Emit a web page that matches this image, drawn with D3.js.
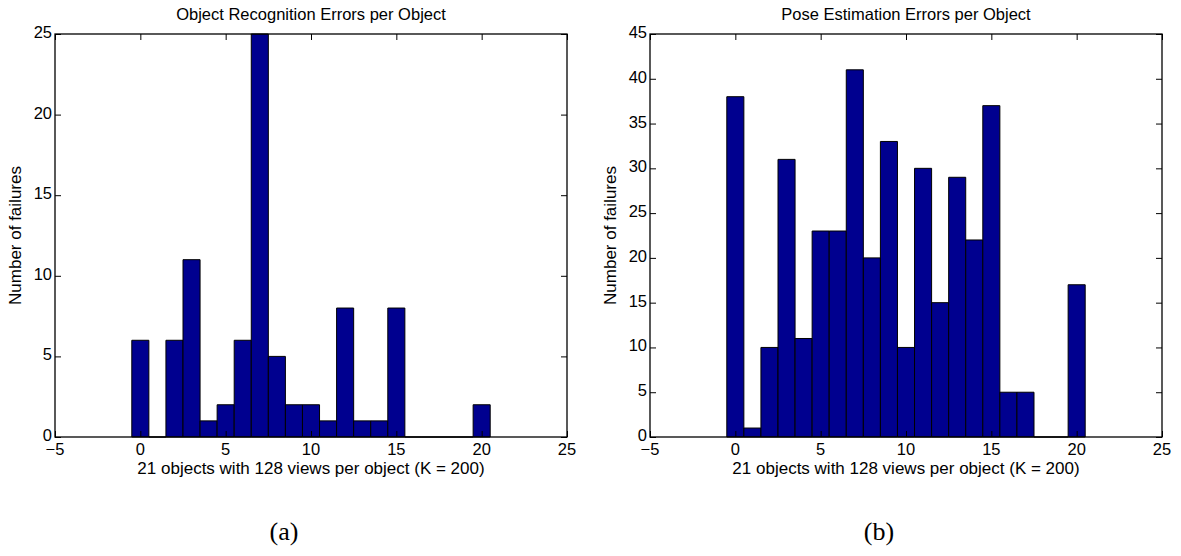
<!doctype html>
<html>
<head>
    <meta charset="utf-8">
    <title>Errors per Object</title>
    <script src="https://cdn.jsdelivr.net/npm/d3@7"></script>
    <style type="text/css">
        html, body { margin: 0; padding: 0; background: #fff; }
        svg text { font-family: "Liberation Sans", Arial, sans-serif; fill: #000; }
    </style>
</head>
<body>
<div id="chart"></div>
<script>
    // object index 0..20
    var objects = d3.range(0, 21)
    var recognitionErrors = [6, 0, 6, 11, 1, 2, 6, 25, 5, 2, 2, 1, 8, 1, 1, 8, 0, 0, 0, 0, 2]
    var poseErrors = [38, 1, 10, 31, 11, 23, 23, 41, 20, 33, 10, 30, 15, 29, 22, 37, 5, 5, 0, 0, 17]
    var xTicks = [-5, 0, 5, 10, 15, 20, 25]
    var yTicksA = [0, 5, 10, 15, 20, 25]
    var yTicksB = [0, 5, 10, 15, 20, 25, 30, 35, 40, 45]

    var svg = d3.select("#chart").append("svg")
        .attr("width", 1181)
        .attr("height", 556)

    function panel(opts) {
        var x = d3.scaleLinear().domain([-5, 25]).range([opts.left, opts.right])
        var y = d3.scaleLinear().domain([0, opts.yMax]).range([437, 34])
        var g = svg.append("g")

        // bars (zero counts still show as a flat line on the axis)
        g.selectAll("path.bar")
            .data(objects)
            .enter()
            .append("path")
            .attr("class", "bar")
            .attr("d", function (d, i) {
                var x0 = x(d - 0.5), x1 = x(d + 0.5)
                var y0 = y(0), y1 = y(opts.values[i])
                return "M" + x0 + "," + y0 + "V" + y1 + "H" + x1 + "V" + y0 + "Z"
            })
            .attr("fill", "#00008f")
            .attr("stroke", "#000")
            .attr("stroke-width", 1)

        // box frame
        g.append("rect")
            .attr("x", x(-5))
            .attr("y", y(opts.yMax))
            .attr("width", x(25) - x(-5))
            .attr("height", y(0) - y(opts.yMax))
            .attr("fill", "none")
            .attr("stroke", "#000")
            .attr("stroke-width", 1.3)

        // inward ticks on all four sides
        var tl = 6
        g.append("g").attr("transform", "translate(0," + y(0) + ")")
            .call(d3.axisBottom(x).tickValues(xTicks).tickSize(-tl).tickFormat(""))
        g.append("g").attr("transform", "translate(0," + y(opts.yMax) + ")")
            .call(d3.axisTop(x).tickValues(xTicks).tickSize(-tl).tickFormat(""))
        g.append("g").attr("transform", "translate(" + x(-5) + ",0)")
            .call(d3.axisLeft(y).tickValues(opts.yTicks).tickSize(-tl).tickFormat(""))
        g.append("g").attr("transform", "translate(" + x(25) + ",0)")
            .call(d3.axisRight(y).tickValues(opts.yTicks).tickSize(-tl).tickFormat(""))
        g.selectAll(".domain").remove()
        g.selectAll(".tick line").attr("stroke", "#000")

        // tick labels
        g.selectAll("text.xt")
            .data(xTicks)
            .enter()
            .append("text")
            .attr("x", function (d) { return x(d) })
            .attr("y", 455)
            .attr("text-anchor", "middle")
            .style("font-size", "16.5px")
            .text(function (d) { return d < 0 ? "\u2212" + (-d) : d })

        g.selectAll("text.yt")
            .data(opts.yTicks)
            .enter()
            .append("text")
            .attr("x", x(-5) - 3)
            .attr("y", function (d) { return y(d) + 4 })
            .attr("text-anchor", "end")
            .style("font-size", "16.5px")
            .text(function (d) { return d })

        var cx = (x(-5) + x(25)) / 2
        g.append("text")
            .attr("x", cx)
            .attr("y", 20)
            .attr("text-anchor", "middle")
            .style("font-size", "16.5px")
            .text(opts.title)

        g.append("text")
            .attr("x", cx)
            .attr("y", 474)
            .attr("text-anchor", "middle")
            .style("font-size", "17px")
            .text("21 objects with 128 views per object (K = 200)")

        g.append("text")
            .attr("transform", "translate(" + (x(-5) - 34) + "," + ((y(0) + y(opts.yMax)) / 2) + ") rotate(-90)")
            .attr("text-anchor", "middle")
            .style("font-size", "17px")
            .text("Number of failures")

        g.append("text")
            .attr("x", cx - 27)
            .attr("y", 540)
            .attr("text-anchor", "middle")
            .style("font-family", "'Liberation Serif', 'DejaVu Serif', serif")
            .style("font-size", "26px")
            .text(opts.label)
    }

    panel({ left: 55, right: 567, yMax: 25, yTicks: yTicksA, values: recognitionErrors,
        title: "Object Recognition Errors per Object", label: "(a)" })
    panel({ left: 650, right: 1162, yMax: 45, yTicks: yTicksB, values: poseErrors,
        title: "Pose Estimation Errors per Object", label: "(b)" })
</script>
</body>
</html>
